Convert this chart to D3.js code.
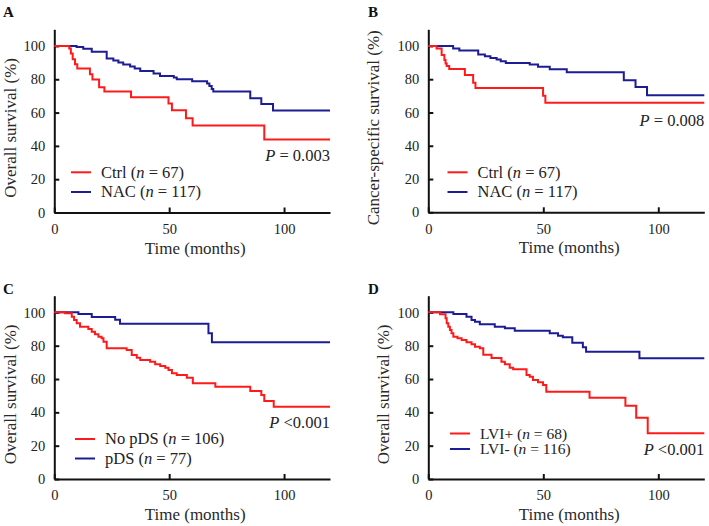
<!DOCTYPE html>
<html><head><meta charset="utf-8">
<script src="https://cdn.jsdelivr.net/npm/d3@7"></script>
<style>body{margin:0;background:#fff}svg{display:block}</style>
</head><body>
<script>
// ---- Data (months, survival %) ----
const xTicks = [0, 50, 100];
const yTicks = [0, 20, 40, 60, 80, 100];

// Panel A: Overall survival, Ctrl vs NAC
const A_ctrl_t = [0, 6.5, 7.2, 8, 9, 10, 15.5, 16.6, 19.5, 21.8, 33.4, 49.7, 51.2, 57.3, 60.2, 91.4, 120];
const A_ctrl_s = [100, 98.5, 95.5, 92, 89, 86.5, 83, 79.8, 75.2, 72.6, 69.2, 65.5, 61.4, 56.6, 52.3, 43.8, 43.8];
const A_nac_t = [0, 9.7, 12.6, 16.3, 22.8, 25.7, 27.9, 30, 33, 35, 37.4, 43.2, 46, 52, 53.3, 60, 66.5, 67.5, 68.5, 69.2, 85.3, 90.1, 95.2, 120];
const A_nac_s = [100, 99.3, 98.3, 96.5, 92.5, 91.2, 90, 88.8, 87.6, 86.5, 85, 83.5, 82, 81, 80, 78.8, 77.5, 76, 74.2, 72.6, 68.6, 65.2, 61.2, 61.2];

// Panel B: Cancer-specific survival, Ctrl vs NAC
const B_ctrl_t = [0, 3.6, 5.8, 7, 7.5, 8, 9.1, 15.9, 19.5, 20.5, 49.9, 50.9, 120];
const B_ctrl_s = [100, 98.5, 94.5, 91.5, 89.5, 88, 86.2, 82.6, 77.8, 74.7, 70, 65.8, 65.8];
const B_nac_t = [0, 10.8, 13.5, 21.7, 24.6, 27, 29.7, 31.5, 33.7, 44.1, 47.7, 52.8, 60.2, 85, 90.1, 95.1, 120];
const B_nac_s = [100, 98.4, 97.2, 94.8, 93.8, 92.8, 91.8, 90.8, 89.8, 88.8, 87.5, 86, 84.2, 79.4, 75.3, 70.4, 70.4];

// Panel C: Overall survival, No pDS vs pDS
const C_nopds_t = [0, 4.7, 7.6, 8.6, 9.75, 11.2, 14.8, 16.3, 17.7, 19.2, 20.6, 21.4, 22.8, 31.5, 33.7, 35.9, 37.4, 41.7, 43.9, 46.1, 48.3, 49.7, 51.2, 53.3, 57.7, 60.3, 70.1, 85.3, 90.1, 91.4, 95.5, 120];
const C_nopds_s = [100, 99.4, 97.4, 95.4, 93.4, 91.4, 90, 88.4, 86.8, 85.4, 84.4, 82.4, 78.4, 77.4, 74.4, 72.8, 71.4, 70.4, 68.8, 67.8, 66.8, 65.4, 63.4, 62.4, 60.8, 57.4, 55.4, 52.8, 50.4, 46.8, 43.4, 43.4];
const C_pds_t = [0, 10.5, 16.3, 26.5, 28.6, 67.1, 68.6, 120];
const C_pds_s = [100, 99, 97.2, 95.6, 93.2, 87.4, 82, 82];

// Panel D: Overall survival, LVI+ vs LVI-
const D_pos_t = [0, 5.1, 7.5, 8, 8.7, 9.4, 10.1, 10.9, 12.7, 14.5, 16.6, 18.8, 20.3, 22.4, 23.9, 27.5, 31.8, 33.3, 35.4, 36.9, 42.7, 44.1, 45.5, 47.7, 49.9, 51.3, 70.1, 85.7, 90.4, 95.4, 120];
const D_pos_s = [100, 98.8, 96.4, 93.4, 91.4, 89.4, 87.4, 85.4, 84.4, 83.4, 82, 80.8, 79.4, 78.4, 74.6, 72.6, 70.4, 68.8, 66.8, 65.8, 62.4, 61.4, 59.4, 58, 56.4, 52.4, 48.8, 44, 36.8, 27.4, 27.4];
const D_neg_t = [0, 10.9, 16.6, 18.8, 20.3, 22.4, 28.9, 33.3, 37.6, 52.8, 56.4, 58.5, 62.6, 67.2, 68.6, 91.8, 120];
const D_neg_s = [100, 99, 97.4, 95.4, 94.4, 92.8, 91.4, 90.4, 89, 87.4, 86, 85, 81.8, 79, 76.4, 72.4, 72.4];

const panelLetters = ["A", "B", "C", "D"];
const yTitles = ["Overall survival (%)", "Cancer-specific survival (%)", "Overall survival (%)", "Overall survival (%)"];
const legendNames = [["Ctrl", "NAC"], ["Ctrl", "NAC"], ["No pDS", "pDS"], ["LVI+", "LVI-"]];
const legendN = [["67", "117"], ["67", "117"], ["106", "77"], ["68", "116"]];
const pTexts = [" = 0.003", " = 0.008", " <0.001", " <0.001"];

// ---- Layout ----
const W = 709, H = 526;
const RED = "#ff1a1a", BLUE = "#1c1c94";
const FONT = "'Liberation Serif', 'Times New Roman', serif";

const panels = [
  {x0: 54.3, x1: 330, yb: 212.5, yt: 29.3, series: [[A_ctrl_t, A_ctrl_s], [A_nac_t, A_nac_s]],
   letter: [3, 17], ytx: 10.5, legX: 71, legY: [172.3, 192], pY: 161, legFs: 16.5},
  {x0: 428.3, x1: 704.3, yb: 212.3, yt: 29.3, series: [[B_ctrl_t, B_ctrl_s], [B_nac_t, B_nac_s]],
   letter: [368, 17], ytx: 373.5, legX: 447.5, legY: [172.3, 192], pY: 126, legFs: 16.5},
  {x0: 54.3, x1: 330, yb: 479, yt: 295.7, series: [[C_nopds_t, C_nopds_s], [C_pds_t, C_pds_s]],
   letter: [3, 294], ytx: 10.5, legX: 75, legY: [439, 458.5], pY: 428, legFs: 16.5},
  {x0: 428.3, x1: 704.3, yb: 479, yt: 295.7, series: [[D_pos_t, D_pos_s], [D_neg_t, D_neg_s]],
   letter: [368, 294], ytx: 383.5, legX: 450, legY: [433.5, 449], pY: 455, legFs: 15.5}
];

const svg = d3.select("body").append("svg").attr("width", W).attr("height", H)
  .style("font-family", FONT).style("font-weight", "400");

panels.forEach((p, i) => {
  const x = d3.scaleLinear().domain([0, 120]).range([p.x0, p.x1]);
  const y = d3.scaleLinear().domain([0, 110]).range([p.yb, p.yt]);
  const g = svg.append("g");

  // axes
  const yAx = g.append("g").attr("transform", `translate(${p.x0},0)`)
    .call(d3.axisLeft(y).tickValues(yTicks).tickSize(-5).tickPadding(9).tickSizeOuter(0));
  const xAx = g.append("g").attr("transform", `translate(0,${p.yb})`)
    .call(d3.axisBottom(x).tickValues(xTicks).tickSize(-5).tickPadding(9).tickSizeOuter(0));
  [yAx, xAx].forEach(a => {
    a.select(".domain").attr("stroke", "#111").attr("stroke-width", 2);
    a.selectAll(".tick line").attr("stroke", "#111").attr("stroke-width", 2);
    a.selectAll(".tick text").attr("font-size", 14.5).attr("fill", "#222").attr("font-family", FONT);
  });
  xAx.selectAll(".tick text").attr("dy", "0.85em");

  // curves
  const line = d3.line().x(d => x(d[0])).y(d => y(d[1])).curve(d3.curveStepAfter);
  const cols = [RED, BLUE];
  p.series.slice().reverse().forEach((s, k) => {
    const idx = 1 - k;
    const pts = s[0].map((t, j) => [t, s[1][j]]);
    g.append("path").attr("d", line(pts)).attr("fill", "none")
      .attr("stroke", cols[idx]).attr("stroke-width", 2);
  });

  // titles
  g.append("text").attr("x", (p.x0 + p.x1) / 2 + 3).attr("y", p.yb + 41)
    .attr("text-anchor", "middle").attr("font-size", 17).attr("font-weight", "400")
    .attr("fill", "#2a2a2a").text("Time (months)");
  g.append("text").attr("transform", `translate(${p.ytx},${(p.yb + p.yt) / 2 + 7}) rotate(-90)`)
    .attr("text-anchor", "middle").attr("dominant-baseline", "central").attr("font-weight", "400")
    .attr("font-size", 17).attr("fill", "#2a2a2a").text(yTitles[i]);
  g.append("text").attr("x", p.letter[0]).attr("y", p.letter[1])
    .attr("font-size", 15).attr("font-weight", "bold").attr("fill", "#111").text(panelLetters[i]);

  // legend
  legendNames[i].forEach((nm, k) => {
    const ly = p.legY[k];
    g.append("line").attr("x1", p.legX).attr("x2", p.legX + 20).attr("y1", ly).attr("y2", ly)
      .attr("stroke", cols[k]).attr("stroke-width", 2);
    const t = g.append("text").attr("x", p.legX + 30).attr("y", ly).attr("dy", "0.33em")
      .attr("font-size", p.legFs).attr("fill", "#222");
    t.append("tspan").text(nm + " (");
    t.append("tspan").attr("font-style", "italic").text("n");
    t.append("tspan").text(" = " + legendN[i][k] + ")");
  });

  // P value
  const pt = g.append("text").attr("x", p.x1).attr("y", p.pY).attr("text-anchor", "end")
    .attr("font-size", 16.5).attr("fill", "#222");
  pt.append("tspan").attr("font-style", "italic").text("P");
  pt.append("tspan").text(pTexts[i]);
});
</script>
</body></html>
